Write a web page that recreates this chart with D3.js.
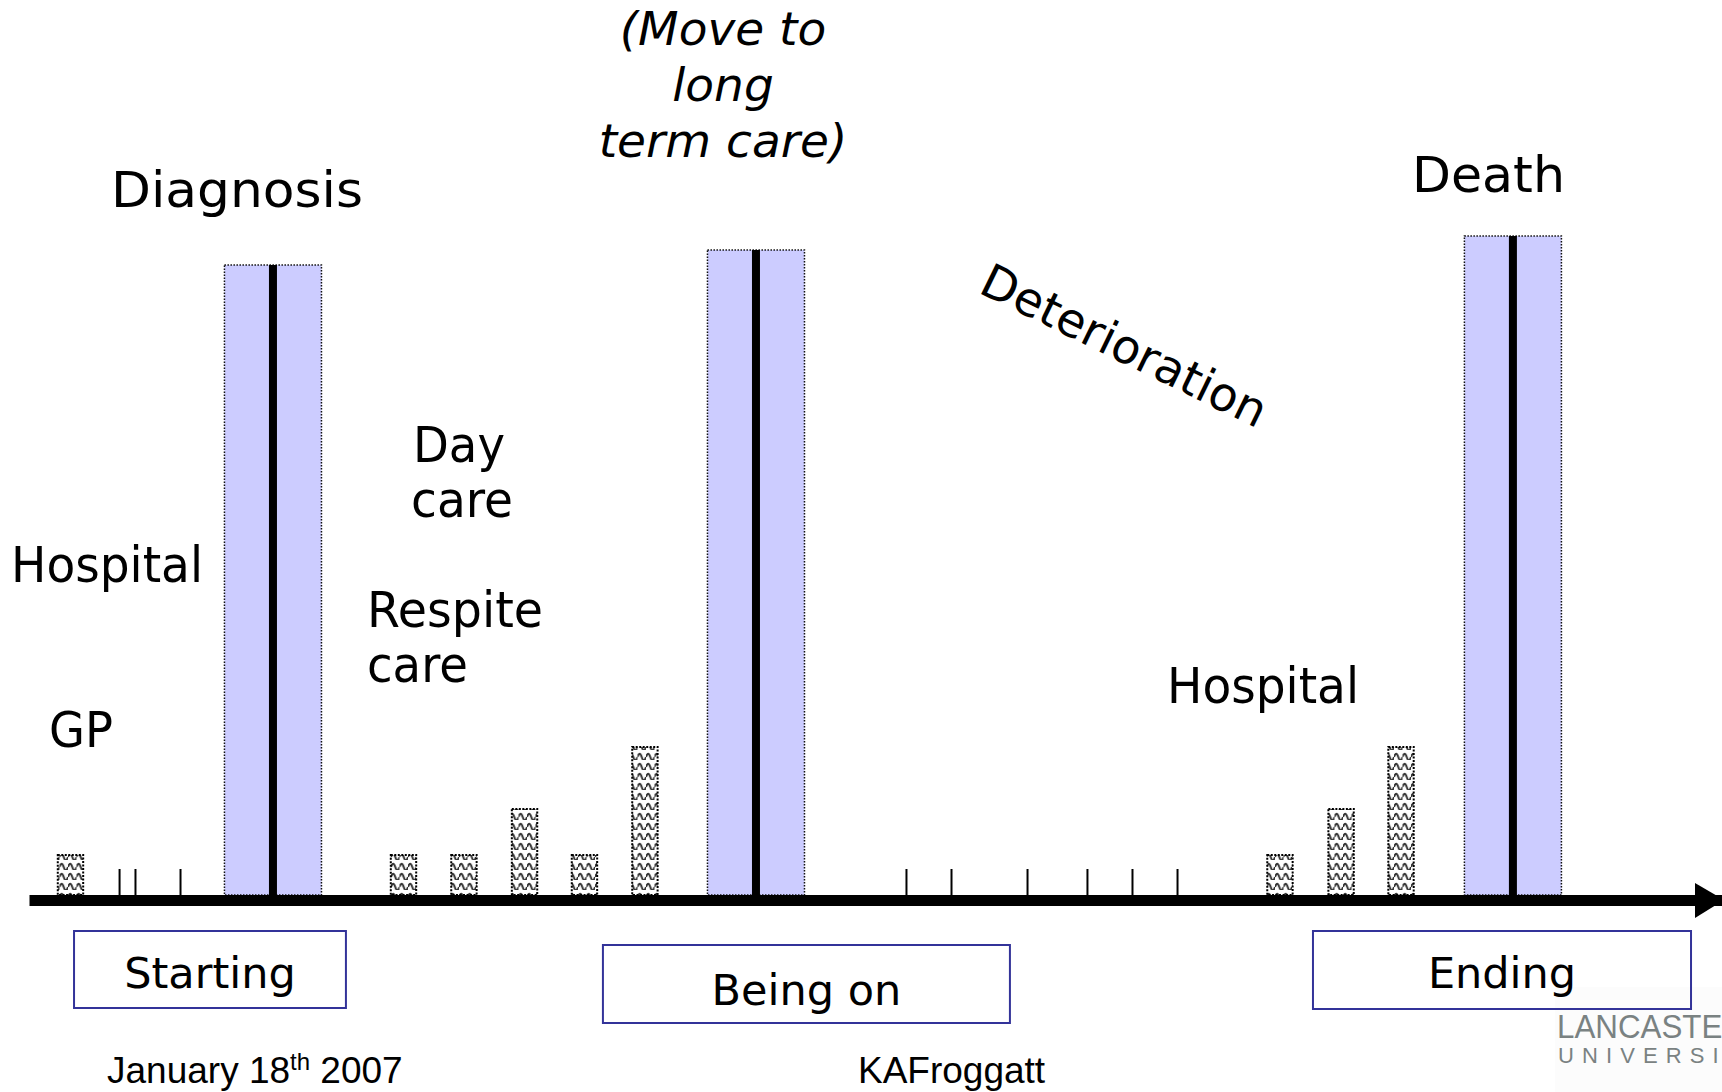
<!DOCTYPE html>
<html>
<head>
<meta charset="utf-8">
<script src="https://cdn.jsdelivr.net/npm/d3@7"></script>
<style>
body{margin:0;background:#fff;}
svg{display:block;}
</style>
</head>
<body>
<script>
//size svg variable
var outerWidth = 1722;
var outerHeight = 1092;

//data: big transitions on the time line (position, height)
var eventPos = [14.41, 42.94, 87.65];
var eventHeight = [15.75, 16.125, 16.475];

//data: service contacts (hatched bars)
var contactPos = [2.45, 22.12, 25.69, 29.27, 32.81, 36.38, 73.89, 77.50, 81.04];
var contactValue = [1, 1, 1, 2.15, 1, 3.7, 1, 2.15, 3.7];

//data: small marks on the time line
var tickPos = [5.32, 6.26, 8.92, 51.80, 54.46, 58.95, 62.49, 65.15, 67.81];

//data: phases under the line
var phaseNames = ["Starting", "Being on", "Ending"];
var phaseStart = [2.66, 33.90, 75.84];
var phaseEnd = [18.72, 57.94, 98.17];

//labels
var moveLines = ["(Move to", "long", "term care)"];
var dayLines = ["Day", "care"];
var respiteLines = ["Respite", "care"];

//insert svg in body
var svg = d3.select("body").append("svg")
  .attr("width", outerWidth)
  .attr("height", outerHeight);

//scales
var xScale = d3.scaleLinear().domain([0, 100]).range([29, 1722]);
var yScale = d3.scaleLinear().domain([0, 17]).range([895, 215]);
var unitW = xScale(1) - xScale(0);

//wave pattern for the contact bars
var defs = svg.append("defs");
var pat = defs.append("pattern")
  .attr("id", "wave")
  .attr("patternUnits", "userSpaceOnUse")
  .attr("width", 8.5)
  .attr("height", 10);
pat.append("rect").attr("width", 8.5).attr("height", 10).attr("fill", "#fff");
pat.append("path")
  .attr("d", "M0,7 Q2.125,0.5 4.25,7 T8.5,7")
  .attr("fill", "none")
  .attr("stroke", "#333")
  .attr("stroke-width", 2);

//faint logo background
svg.append("rect")
  .attr("x", 1555).attr("y", 987)
  .attr("width", 167).attr("height", 105)
  .attr("fill", "#fcfcfc");

//blue transition boxes
var boxHalf = 2.865;
svg.selectAll("rect.event")
  .data(eventPos)
  .enter()
  .append("rect")
  .attr("class", "event")
  .attr("x", (d)=>xScale(d - boxHalf))
  .attr("y", (d, i)=>yScale(eventHeight[i]))
  .attr("width", boxHalf * 2 * unitW)
  .attr("height", (d, i)=>yScale(0) - yScale(eventHeight[i]))
  .attr("fill", "#ccccff")
  .attr("stroke", "#111")
  .attr("stroke-width", 1.5)
  .attr("stroke-dasharray", "1.5,1.5");

svg.selectAll("line.event")
  .data(eventPos)
  .enter()
  .append("line")
  .attr("class", "event")
  .attr("x1", (d)=>xScale(d))
  .attr("x2", (d)=>xScale(d))
  .attr("y1", (d, i)=>yScale(eventHeight[i]))
  .attr("y2", yScale(0))
  .attr("stroke", "#000")
  .attr("stroke-width", 8);

//contact bars
var barW = 1.5;
svg.selectAll("rect.contact")
  .data(contactPos)
  .enter()
  .append("rect")
  .attr("class", "contact")
  .attr("x", (d)=>xScale(d - barW / 2))
  .attr("y", (d, i)=>yScale(contactValue[i]))
  .attr("width", barW * unitW)
  .attr("height", (d, i)=>yScale(0) - yScale(contactValue[i]))
  .attr("fill", "url(#wave)")
  .attr("stroke", "#000")
  .attr("stroke-width", 2)
  .attr("stroke-dasharray", "2,1.5");

//time line with marks
var axis = d3.axisTop(xScale)
  .tickValues(tickPos)
  .tickSize(31)
  .tickSizeOuter(0)
  .tickFormat("");

var gAxis = svg.append("g")
  .attr("transform", "translate(0,900)")
  .call(axis);
gAxis.select(".domain").attr("stroke", "#000").attr("stroke-width", 11);
gAxis.selectAll(".tick line").attr("stroke", "#000").attr("stroke-width", 2);

//arrow head
var tipX = xScale(100) + 2;
svg.append("path")
  .attr("d", "M" + (tipX - 29) + ",883 L" + tipX + ",900 L" + (tipX - 29) + ",918 Z")
  .attr("fill", "#000");

//phase boxes
var phaseY = [931, 945, 931];
var phaseH = [77, 78, 78];
var phaseBase = [988, 1005, 988];
svg.selectAll("rect.phase")
  .data(phaseNames)
  .enter()
  .append("rect")
  .attr("class", "phase")
  .attr("x", (d, i)=>xScale(phaseStart[i]))
  .attr("y", (d, i)=>phaseY[i])
  .attr("width", (d, i)=>xScale(phaseEnd[i]) - xScale(phaseStart[i]))
  .attr("height", (d, i)=>phaseH[i])
  .attr("fill", "none")
  .attr("stroke", "#333399")
  .attr("stroke-width", 2);

svg.selectAll("text.phase")
  .data(phaseNames)
  .enter()
  .append("text")
  .attr("class", "phase")
  .attr("x", (d, i)=>(xScale(phaseStart[i]) + xScale(phaseEnd[i])) / 2)
  .attr("y", (d, i)=>phaseBase[i])
  .attr("text-anchor", "middle")
  .attr("font-family", "DejaVu Sans")
  .attr("font-size", 43)
  .text((d)=>d);

//labels
function label(txt, x, y, size, w){
  var t = svg.append("text")
    .attr("x", x)
    .attr("y", y)
    .attr("font-family", "DejaVu Sans")
    .attr("font-size", size)
    .attr("fill", "#000")
    .text(txt);
  if(w){
    t.attr("textLength", w).attr("lengthAdjust", "spacingAndGlyphs");
  }
  return t;
}

label("Diagnosis", 111, 207, 50, 252);
label("Death", 1412, 192, 50, 153);
label("Hospital", 11, 582, 50, 192);
label("GP", 49, 747, 50, 64);
label("Hospital", 1167, 703, 50, 192);
label(dayLines[0], 413, 462, 50, 92);
label(dayLines[1], 411, 517, 50, 102);
label(respiteLines[0], 367, 627, 50, 176);
label(respiteLines[1], 367, 682, 50, 101);

moveLines.forEach((t, i)=>{
  label(t, 723, 45 + i * 56, 47)
    .attr("text-anchor", "middle")
    .attr("font-style", "italic");
});

label("Deterioration", 0, 0, 47)
  .attr("transform", "translate(977,292) rotate(26)");

//footer
var foot = svg.append("text")
  .attr("x", 107)
  .attr("y", 1083)
  .attr("font-family", "Liberation Sans, Arial")
  .attr("font-size", 37);
foot.append("tspan").text("January 18");
foot.append("tspan").attr("font-size", 24).attr("dy", -13).text("th");
foot.append("tspan").attr("dy", 13).text(" 2007");

svg.append("text")
  .attr("x", 858)
  .attr("y", 1083)
  .attr("font-family", "Liberation Sans, Arial")
  .attr("font-size", 37)
  .text("KAFroggatt");

//logo (runs off the right edge, as in the slide)
svg.append("text")
  .attr("x", 1557)
  .attr("y", 1038)
  .attr("font-family", "Liberation Sans")
  .attr("font-size", 33)
  .attr("textLength", 188)
  .attr("lengthAdjust", "spacingAndGlyphs")
  .attr("fill", "#7a8282")
  .text("LANCASTER");
svg.append("text")
  .attr("x", 1558)
  .attr("y", 1063)
  .attr("font-family", "Liberation Sans")
  .attr("font-size", 22)
  .attr("textLength", 205)
  .attr("lengthAdjust", "spacing")
  .attr("fill", "#7a8282")
  .text("UNIVERSITY");
</script>
</body>
</html>
